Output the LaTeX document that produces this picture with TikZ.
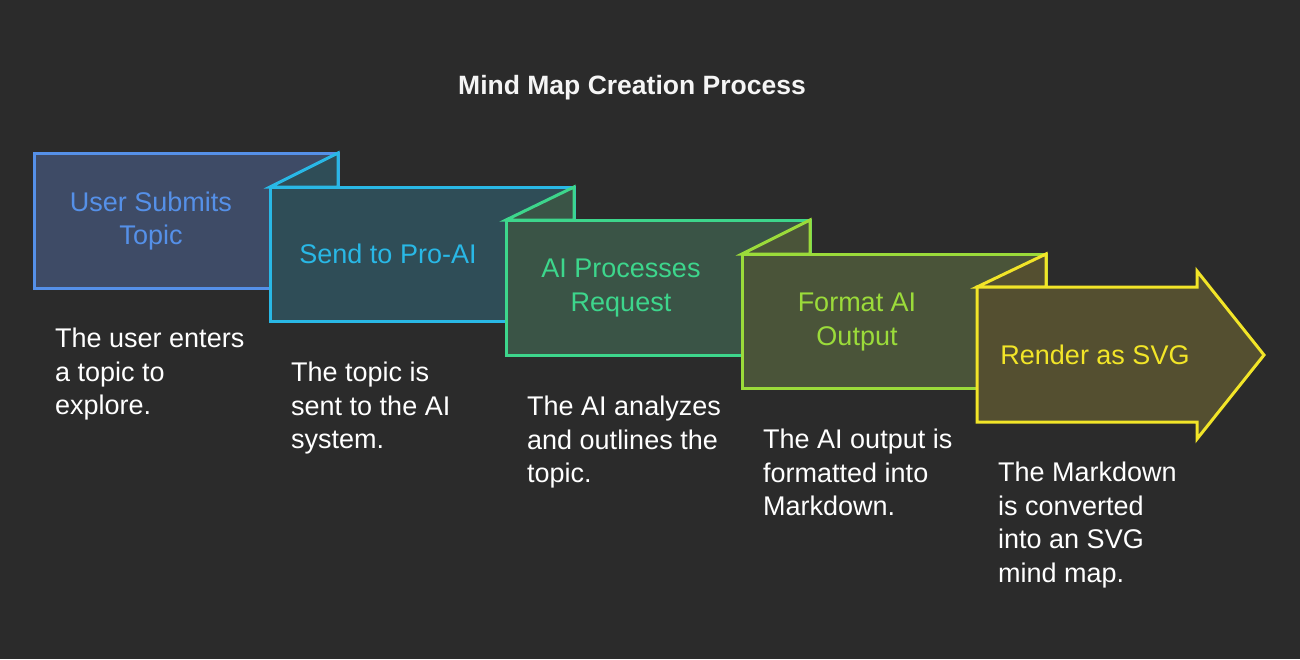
\documentclass[tikz,border=0pt]{standalone}
\usepackage{fontspec}
\setmainfont{Liberation Sans}
\definecolor{bg}{HTML}{2B2B2B}
\definecolor{lnA}{HTML}{5590E8}\definecolor{fiA}{HTML}{3E4B66}
\definecolor{lnB}{HTML}{29B8E6}\definecolor{fiB}{HTML}{2F4D57}
\definecolor{lnC}{HTML}{3DD68C}\definecolor{fiC}{HTML}{3A5446}
\definecolor{lnD}{HTML}{9BDB3A}\definecolor{fiD}{HTML}{4A5439}
\definecolor{lnE}{HTML}{F2E528}\definecolor{fiE}{HTML}{544F30}
\definecolor{titlec}{HTML}{F5F5F5}
\tikzset{
  panel/.style={line width=3pt, line join=miter},
  boxlabel/.style={font=\fontsize{27}{33.5}\selectfont, align=center, inner sep=0pt},
  desc/.style={font=\fontsize{27}{33.5}\selectfont, align=left, anchor=north west, inner sep=0pt, text=white},
}
\begin{document}
\begin{tikzpicture}[x=1pt,y=-1pt]
\fill[bg] (0,0) rectangle (1300,659);
\useasboundingbox (0,0) rectangle (1300,659);

\node[font=\bfseries\fontsize{26.5}{30}\selectfont, text=titlec] (title) at (632,88) {Mind Map Creation Process};

% Box 1
\draw[panel, draw=lnA, fill=fiA] (34,153) rectangle (338,288);
% Box 2
\draw[panel, draw=lnB, fill=fiB] (338,153) -- (270,187) -- (338,187) -- cycle;
\draw[panel, draw=lnB, fill=fiB] (270,187) rectangle (574,321);
% Box 3
\draw[panel, draw=lnC, fill=fiC] (574,187) -- (506,220) -- (574,220) -- cycle;
\draw[panel, draw=lnC, fill=fiC] (506,220) rectangle (810,355);
% Box 4
\draw[panel, draw=lnD, fill=fiD] (810,220) -- (742,254) -- (810,254) -- cycle;
\draw[panel, draw=lnD, fill=fiD] (742,254) rectangle (1046,388);
% Box 5 (arrow)
\draw[panel, draw=lnE, fill=fiE] (1046,254) -- (977,287) -- (1046,287) -- cycle;
\draw[panel, draw=lnE, fill=fiE] (977,287) -- (1197,287) -- (1197,271) -- (1264,355)
  -- (1197,439) -- (1197,422) -- (977,422) -- cycle;

\node[boxlabel, text=lnA] (l1) at (151,221) {User Submits\\Topic};
\node[boxlabel, text=lnB] (l2) at (388,254) {Send to Pro-AI};
\node[boxlabel, text=lnC] (l3) at (621,288) {AI Processes\\Request};
\node[boxlabel, text=lnD] (l4) at (857,322) {Format AI\\Output};
\node[boxlabel, text=lnE] (l5) at (1095,355) {Render as SVG};

\node[desc] (d1) at (55,328) {The user enters\\a topic to\\explore.};
\node[desc] (d2) at (291,362) {The topic is\\sent to the AI\\system.};
\node[desc] (d3) at (527,396) {The AI analyzes\\and outlines the\\topic.};
\node[desc] (d4) at (763,429) {The AI output is\\formatted into\\Markdown.};
\node[desc] (d5) at (998,462) {The Markdown\\is converted\\into an SVG\\mind map.};
\end{tikzpicture}
\end{document}
